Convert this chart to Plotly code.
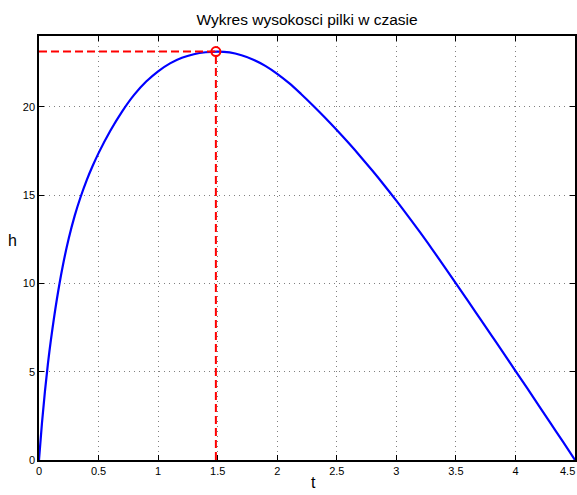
import plotly.graph_objects as go

# Ball height over time (t in s, h in m)
t = [0, 0.025, 0.05, 0.075, 0.1, 0.15, 0.2, 0.25, 0.3, 0.35, 0.4, 0.45,
     0.5, 0.6, 0.7, 0.8, 0.9, 1.0, 1.1, 1.2, 1.3, 1.4, 1.5, 1.6, 1.7,
     1.8, 1.9, 2.0, 2.1, 2.2, 2.3, 2.4, 2.5, 2.6, 2.7, 2.8, 2.9, 3.0,
     3.1, 3.2, 3.3, 3.4, 3.5, 3.6, 3.7, 3.8, 3.9, 4.0, 4.1, 4.2, 4.3,
     4.4, 4.5]
h = [0, 2.1, 3.9, 5.45, 6.8, 9.1, 11.0, 12.55, 13.83, 14.9, 15.83, 16.64,
     17.37, 18.65, 19.75, 20.68, 21.42, 22.0, 22.45, 22.77, 22.97, 23.08,
     23.12, 23.07, 22.91, 22.66, 22.31, 21.86, 21.33, 20.72, 20.07, 19.39,
     18.68, 17.94, 17.17, 16.37, 15.54, 14.68, 13.79, 12.88, 11.94, 10.98,
     10.0, 9.02, 8.03, 7.04, 6.05, 5.05, 4.05, 3.04, 2.03, 1.02, 0]

# Maximum height point
t_max = 1.485
h_max = 23.12

x_ticks = [0, 0.5, 1, 1.5, 2, 2.5, 3, 3.5, 4, 4.5]
x_tick_text = ["0", "0.5", "1", "1.5", "2", "2.5", "3", "3.5", "4", "4.5"]
y_ticks = [0, 5, 10, 15, 20]
y_tick_text = ["0", "5", "10", "15", "20"]

font_family = "Liberation Sans, Arial, sans-serif"
tick_font = dict(family=font_family, size=11, color="black")

fig = go.Figure()

fig.add_trace(go.Scatter(
    x=t, y=h, mode="lines",
    line=dict(color="#0000ff", width=2.2, shape="spline", smoothing=1.0),
    hoverinfo="skip", showlegend=False,
))

# Dashed guides to the peak
fig.add_trace(go.Scatter(
    x=[0, t_max], y=[h_max, h_max], mode="lines",
    line=dict(color="#ff0000", width=2, dash="8px,4px"),
    showlegend=False,
))
fig.add_trace(go.Scatter(
    x=[t_max, t_max], y=[0, h_max], mode="lines",
    line=dict(color="#ff0000", width=2, dash="8px,4px"),
    showlegend=False,
))
fig.add_trace(go.Scatter(
    x=[t_max], y=[h_max], mode="markers",
    marker=dict(symbol="circle-open", size=9, color="#ff0000",
                line=dict(color="#ff0000", width=2)),
    showlegend=False, cliponaxis=False,
))

axis_common = dict(
    showline=True, linecolor="black", linewidth=1.5, mirror="allticks",
    ticks="inside", ticklen=5, tickcolor="black", tickwidth=1,
    showgrid=True, gridcolor="#808080", gridwidth=1, griddash="1px,4px",
    zeroline=False, automargin=False, tickfont=tick_font,
)

# The last x label sits at the right edge, so it is placed right-aligned
fig.update_xaxes(range=[0, 4.5], tickmode="array", tickvals=x_ticks,
                 ticktext=x_tick_text[:-1] + [""], **axis_common)
fig.update_yaxes(range=[0, 24], tickmode="array", tickvals=y_ticks,
                 ticktext=y_tick_text, **axis_common)

fig.update_layout(
    width=577, height=495,
    margin=dict(l=39, r=2, t=36, b=35, autoexpand=False),
    paper_bgcolor="white", plot_bgcolor="white",
    title=dict(text="Wykres wysokosci pilki w czasie",
               font=dict(family=font_family, size=15.5, color="black"),
               x=(39 + 575) / 2 / 577, xanchor="center",
               y=1 - 20 / 495, yanchor="middle", yref="container"),
    annotations=[
        dict(text=x_tick_text[-1], x=x_ticks[-1], y=-(471 - 460) / 424,
             xref="x", yref="paper", xanchor="right", yanchor="middle",
             xshift=2, showarrow=False, font=tick_font),
        dict(text="t", x=(313 - 39) / 536, y=-(482 - 460) / 424,
             xref="paper", yref="paper",
             xanchor="center", yanchor="middle", showarrow=False,
             font=dict(family=font_family, size=16, color="black")),
        dict(text="h", x=(12 - 39) / 536, y=(460 - 240) / 424,
             xref="paper", yref="paper",
             xanchor="center", yanchor="middle", showarrow=False,
             font=dict(family=font_family, size=16, color="black")),
    ],
)

fig.write_html("out.html")
